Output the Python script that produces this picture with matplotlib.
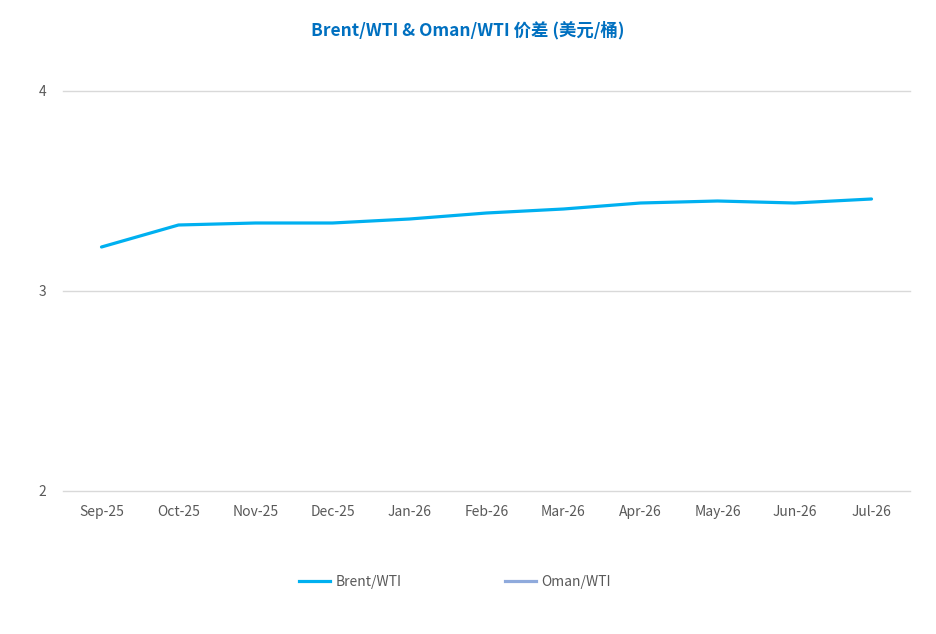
import numpy as np
import matplotlib.pyplot as plt
from matplotlib.lines import Line2D

plt.rcParams['font.family'] = ['Noto Sans CJK SC', 'DejaVu Sans']

months = ['Sep-25', 'Oct-25', 'Nov-25', 'Dec-25', 'Jan-26', 'Feb-26',
          'Mar-26', 'Apr-26', 'May-26', 'Jun-26', 'Jul-26']
brent_wti = [3.22, 3.33, 3.34, 3.34, 3.36, 3.39, 3.41, 3.44, 3.45, 3.44, 3.46]
oman_wti = [np.nan] * len(months)
yticks = [2, 3, 4]

brent_color = '#00B0F0'
oman_color = '#8FAADC'
text_color = '#595959'

fig = plt.figure(figsize=(9.37, 6.34), dpi=100)
ax = fig.add_axes([63/937, 1-491/634, (910-63)/937, 400/634])

x = np.arange(len(months))
ax.plot(x, brent_wti, color=brent_color, lw=2.3, solid_capstyle='round', zorder=3)
ax.plot(x, oman_wti, color=oman_color, lw=2.3, zorder=3)

ax.set_xlim(-0.5, len(months) - 0.5)
ax.set_ylim(2, 4)
ax.set_yticks(yticks)
ax.set_yticklabels([str(v) for v in yticks])
ax.set_xticks(x)
ax.set_xticklabels(months)
ax.grid(axis='y', color='#D9D9D9', lw=1)
for gl in ax.get_ygridlines():
    gl.set_clip_on(False)
ax.set_axisbelow(True)
for s in ax.spines.values():
    s.set_visible(False)
ax.tick_params(axis='both', length=0, colors=text_color, labelsize=10)
ax.tick_params(axis='y', pad=12)
ax.tick_params(axis='x', pad=10)

fig.text(468/937, 1-30/634, 'Brent/WTI & Oman/WTI 价差 (美元/桶)', ha='center', va='center',
         fontsize=12.5, fontweight='bold', color='#0070C0')

handles = [Line2D([], [], color=brent_color, lw=2.3),
           Line2D([], [], color=oman_color, lw=2.3)]
fig.legend(handles, ['Brent/WTI', 'Oman/WTI'], loc='center', ncol=2,
           bbox_to_anchor=(455/937, 1-582/634), frameon=False,
           fontsize=10, labelcolor=text_color, handlelength=2.2,
           handletextpad=0.4, columnspacing=7.5)

fig.savefig('out.png', dpi=100)
